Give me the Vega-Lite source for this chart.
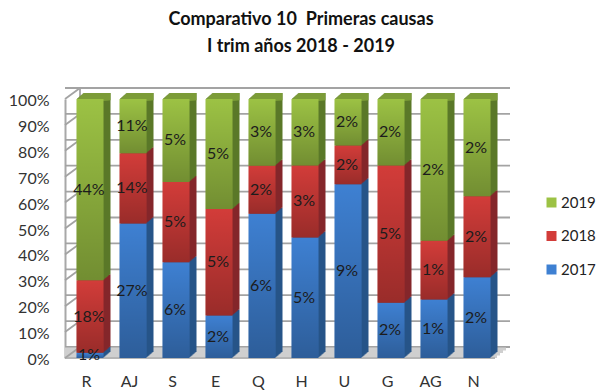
{
  "$schema": "https://vega.github.io/schema/vega-lite/v6.json",
  "width": 430,
  "height": 259,
  "autosize": {"type": "none"},
  "padding": {"left": 65, "top": 99, "right": 103, "bottom": 32},
  "background": "white",
  "title": {
    "text": ["Comparativo 10\u00a0 Primeras causas", "I trim años 2018 - 2019"],
    "font": "Lato", "fontSize": 18, "fontWeight": "bold", "color": "#111111",
    "lineHeight": 27, "anchor": "middle", "offset": 31, "dx": 21
  },
  "config": {
    "view": {"stroke": null},
    "axis": {"labelFont": "Lato", "labelFontSize": 16, "labelColor": "#333333", "title": null, "grid": false},
    "axisY": {"format": ".0%", "tickCount": 11, "ticks": false, "domain": true, "domainColor": "#a8a8a8", "domainWidth": 2, "labelPadding": 16, "labelOverlap": false, "labelOffset": 1.5}
  },
  "data": {"values": [
    {"causa": "R", "anio": "2017", "valor": 0.0126},
    {"causa": "R", "anio": "2018", "valor": 0.1764},
    {"causa": "R", "anio": "2019", "valor": 0.441},
    {"causa": "AJ", "anio": "2017", "valor": 0.27},
    {"causa": "AJ", "anio": "2018", "valor": 0.141},
    {"causa": "AJ", "anio": "2019", "valor": 0.109},
    {"causa": "S", "anio": "2017", "valor": 0.0603},
    {"causa": "S", "anio": "2018", "valor": 0.0505},
    {"causa": "S", "anio": "2019", "valor": 0.0522},
    {"causa": "E", "anio": "2017", "valor": 0.0197},
    {"causa": "E", "anio": "2018", "valor": 0.0493},
    {"causa": "E", "anio": "2019", "valor": 0.051},
    {"causa": "Q", "anio": "2017", "valor": 0.0613},
    {"causa": "Q", "anio": "2018", "valor": 0.0204},
    {"causa": "Q", "anio": "2019", "valor": 0.0283},
    {"causa": "H", "anio": "2017", "valor": 0.0512},
    {"causa": "H", "anio": "2018", "valor": 0.0306},
    {"causa": "H", "anio": "2019", "valor": 0.0282},
    {"causa": "U", "anio": "2017", "valor": 0.0899},
    {"causa": "U", "anio": "2018", "valor": 0.02},
    {"causa": "U", "anio": "2019", "valor": 0.0241},
    {"causa": "G", "anio": "2017", "valor": 0.0196},
    {"causa": "G", "anio": "2018", "valor": 0.0488},
    {"causa": "G", "anio": "2019", "valor": 0.0236},
    {"causa": "AG", "anio": "2017", "valor": 0.00904},
    {"causa": "AG", "anio": "2018", "valor": 0.00904},
    {"causa": "AG", "anio": "2019", "valor": 0.0219},
    {"causa": "N", "anio": "2017", "valor": 0.0187},
    {"causa": "N", "anio": "2018", "valor": 0.0188},
    {"causa": "N", "anio": "2019", "valor": 0.0225}
  ]},
  "resolve": {"scale": {"x": "independent"}},
  "layer": [
    {
      "data": {"values": [{"t": 0}, {"t": 0.1}, {"t": 0.2}, {"t": 0.3}, {"t": 0.4}, {"t": 0.5}, {"t": 0.6}, {"t": 0.7}, {"t": 0.8}, {"t": 0.9}, {"t": 1}]},
      "encoding": {
        "y": {"field": "t", "type": "quantitative", "scale": {"domain": [0, 1], "nice": false}}
      },
      "layer": [
        {"mark": {"type": "rule", "color": "#a3a3a3", "strokeWidth": 1.8, "xOffset": 15, "yOffset": -11}},
        {
          "transform": [{"filter": "datum.t === 0"}],
          "layer": [
            {"mark": {"type": "rule", "color": "#cfcfcf", "strokeWidth": 3, "xOffset": 2, "yOffset": -1.5}},
            {"mark": {"type": "rule", "color": "#cfcfcf", "strokeWidth": 3, "xOffset": 5, "yOffset": -4}},
            {"mark": {"type": "rule", "color": "#cfcfcf", "strokeWidth": 3, "xOffset": 8, "yOffset": -6.5}},
            {"mark": {"type": "rule", "color": "#cfcfcf", "strokeWidth": 3, "xOffset": 11, "yOffset": -9}},
            {"mark": {"type": "rule", "color": "#b5b5b5", "strokeWidth": 2}}
          ]
        },
        {
          "mark": {"type": "rule", "color": "#a3a3a3", "strokeWidth": 1.8, "y2Offset": -11},
          "encoding": {
            "x": {"datum": 0, "type": "quantitative", "scale": {"domain": [0, 1], "range": [0, 15]}, "axis": null},
            "x2": {"datum": 1},
            "y2": {"field": "t"}
          }
        },
        {
          "transform": [{"filter": "datum.t === 0"}],
          "mark": {"type": "rule", "color": "#a3a3a3", "strokeWidth": 1.8, "xOffset": 15, "yOffset": -11, "y2Offset": -11},
          "encoding": {
            "x": {"datum": 0, "type": "quantitative", "scale": {"domain": [0, 1], "range": [0, 15]}, "axis": null},
            "y": {"datum": 0, "type": "quantitative"},
            "y2": {"datum": 1}
          }
        }
      ]
    },
    {
      "encoding": {
        "x": {"field": "causa", "type": "nominal", "sort": null, "scale": {"paddingInner": 0, "paddingOuter": 0}, "axis": {"labelAngle": 0, "ticks": false, "domain": false, "labelPadding": 15}},
        "y": {"field": "valor", "type": "quantitative", "stack": "normalize"},
        "order": {"field": "anio", "sort": "ascending"}
      },
      "layer": [
        {
          "encoding": {
            "fill": {"field": "anio", "type": "nominal", "legend": null, "scale": {
              "domain": ["2017", "2018", "2019"],
              "range": ["#275488", "#84262a", "#5a7829"]
            }}
          },
          "layer": [
            {"mark": {"type": "bar", "width": 27, "xOffset": 10.5, "yOffset": -6}},
            {"mark": {"type": "bar", "width": 27, "xOffset": 9.5, "yOffset": -5.2}},
            {"mark": {"type": "bar", "width": 27, "xOffset": 8.5, "yOffset": -4.3}},
            {"mark": {"type": "bar", "width": 27, "xOffset": 7.5, "yOffset": -3.4}},
            {"mark": {"type": "bar", "width": 27, "xOffset": 6.5, "yOffset": -2.6}},
            {"mark": {"type": "bar", "width": 27, "xOffset": 5.5, "yOffset": -1.7}},
            {"mark": {"type": "bar", "width": 27, "xOffset": 4.5, "yOffset": -0.9}}
          ]
        },
        {
          "transform": [{"filter": "datum.anio === '2019'"}],
          "encoding": {
            "y": {"datum": 1, "type": "quantitative"},
            "y2": {"datum": 0.995},
            "order": null
          },
          "layer": [
            {"mark": {"type": "bar", "width": 27, "color": "#7c9c38", "xOffset": 10.5, "yOffset": -6}},
            {"mark": {"type": "bar", "width": 27, "color": "#7c9c38", "xOffset": 9.5, "yOffset": -5.2}},
            {"mark": {"type": "bar", "width": 27, "color": "#7c9c38", "xOffset": 8.5, "yOffset": -4.3}},
            {"mark": {"type": "bar", "width": 27, "color": "#7c9c38", "xOffset": 7.5, "yOffset": -3.4}},
            {"mark": {"type": "bar", "width": 27, "color": "#7c9c38", "xOffset": 6.5, "yOffset": -2.6}},
            {"mark": {"type": "bar", "width": 27, "color": "#7c9c38", "xOffset": 5.5, "yOffset": -1.7}},
            {"mark": {"type": "bar", "width": 27, "color": "#7c9c38", "xOffset": 4.5, "yOffset": -0.9}}
          ]
        },
        {
          "mark": {"type": "bar", "width": 27, "xOffset": 3.5},
          "encoding": {
            "color": {
              "field": "anio", "type": "nominal",
              "scale": {
                "domain": ["2019", "2018", "2017"],
                "range": ["#9cc244", "#d23c39", "#3e80d2"]
              },
              "legend": {
                "title": null, "orient": "none", "legendX": 479, "legendY": 96, "padding": 0,
                "symbolType": "square", "symbolSize": 100, "symbolStrokeWidth": 0,
                "labelFont": "Lato", "labelFontSize": 15, "labelColor": "#222222", "labelOffset": 2, "rowPadding": 17.5
              }
            }
          }
        },
        {
          "mark": {
            "type": "bar", "width": 27, "xOffset": 3.5,
            "color": {"gradient": "linear", "x1": 0, "y1": 0, "x2": 0, "y2": 1, "stops": [{"offset": 0, "color": "rgba(0,0,0,0)"}, {"offset": 1, "color": "rgba(0,0,0,0.27)"}]}
          }
        },
        {
          "mark": {"type": "text", "font": "Lato", "fontSize": 16, "color": "#1c1c1c", "xOffset": 2.5},
          "encoding": {
            "y": {"field": "valor", "type": "quantitative", "stack": "normalize", "bandPosition": 0.5},
            "text": {"field": "valor", "type": "quantitative", "format": ".0%"},
            "detail": {"field": "anio"}
          }
        }
      ]
    }
  ]
}
